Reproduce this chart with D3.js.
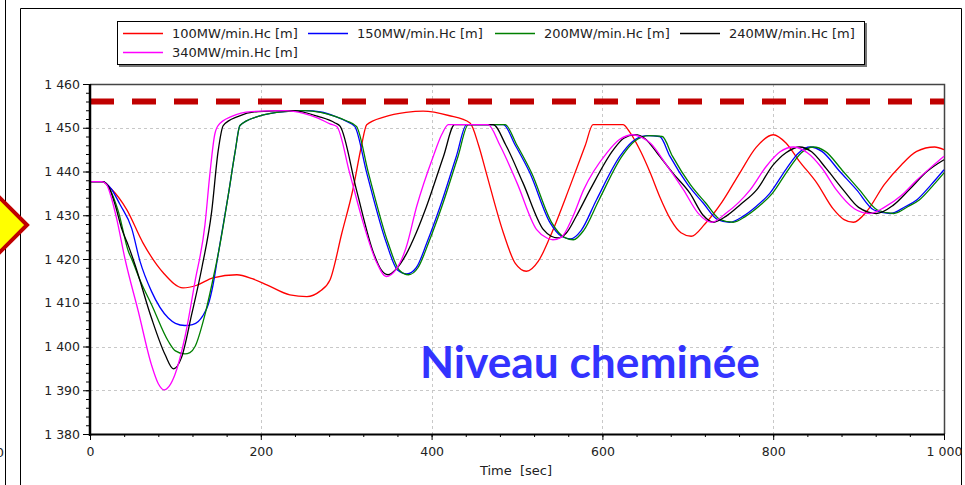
<!DOCTYPE html>
<html>
<head>
<meta charset="utf-8">
<script src="https://cdn.jsdelivr.net/npm/d3@7"></script>
<style>
  body { margin: 0; background: #fff; }
  svg { display: block; }
  text { font-family: "DejaVu Sans", sans-serif; fill: #222; }
</style>
</head>
<body>
<div id="container"></div>
<script>
let w = 965;
let h = 485;

// series : [time (s), level (m)]
let s100 = [[0,1437.7],[14,1437.7],[25,1436],[43,1431.3],[62,1423.7],[86,1416.8],[109,1413.4],[125,1414],[144,1415.7],[172,1416.4],[190,1415.5],[207,1414.1],[234,1411.8],[254,1411.4],[269,1412.6],[281,1415.2],[295,1426],[308,1436],[318,1446],[324,1450.7],[345,1452.5],[370,1453.5],[390,1453.8],[420,1452.8],[445,1451.1],[455,1446],[464,1439.7],[484,1426],[498,1419],[511,1417.2],[525,1419.5],[539,1425.2],[562,1436.6],[580,1446],[589,1450.7],[624,1450.7],[632,1449],[645,1444.5],[656,1439.7],[667,1434.3],[680,1429],[692,1426],[704,1425.2],[720,1428],[740,1433],[761,1439.7],[780,1445.5],[800,1448.4],[815,1446.5],[830,1442.5],[851,1437.4],[870,1431.5],[883,1429],[894,1428.4],[910,1431],[930,1437],[950,1441.5],[968,1444.6],[989,1445.6],[1000,1445]];
let s150 = [[0,1437.7],[15,1437.7],[25,1436],[35,1432.5],[48.8,1427],[58.5,1419.5],[72,1412.6],[91.7,1406.5],[100,1405.3],[111,1404.8],[120,1405],[126.8,1405.7],[132,1407],[138.5,1409.6],[144,1414],[150,1421],[162,1434.7],[170,1444.6],[175.6,1450.5],[197,1452.6],[228,1453.7],[252,1453.9],[270,1453.6],[287,1452.6],[300,1451.5],[310,1450.3],[324,1439.7],[347,1423.7],[360,1417.5],[371,1416.6],[382,1418],[395,1424],[410,1432],[429,1443.5],[441,1450.7],[484,1450.7],[498,1446],[515,1439.7],[539,1428.2],[552,1425.2],[563,1424.6],[575,1426.5],[593,1433.5],[620.6,1443.5],[635,1446.8],[652,1448.2],[667,1448],[679,1443.5],[700,1437],[718,1432.8],[735,1429],[749,1428.4],[765,1429.8],[780,1432],[796,1435],[815,1440.5],[830,1444.3],[843,1445.6],[857,1444.6],[878,1440],[897.7,1435.8],[918,1431.2],[937,1430.4],[955,1432],[968,1433.5],[985,1437],[1000,1440.4]];
let s200 = [[0,1437.7],[15,1437.7],[23,1436],[33,1431],[45,1421.7],[48.8,1420],[60,1414.5],[72,1409.6],[91.7,1401.2],[100,1399],[111,1398.3],[117,1398.6],[123,1400],[134.6,1407.3],[146,1417.2],[150,1421],[162,1434.7],[170,1444.6],[175.6,1450.5],[197,1452.6],[228,1453.7],[252,1453.9],[270,1453.5],[287,1452.6],[300,1451.6],[312,1450.3],[326,1439.7],[349,1423.7],[362,1417.5],[373,1416.4],[384,1418],[397,1424],[412,1432],[431,1443.5],[443,1450.7],[486,1450.7],[500,1446],[517,1439.7],[541,1428.2],[555,1425],[566,1424.4],[578,1426.5],[596,1433.5],[623,1443.5],[637,1446.8],[655,1448.2],[670,1448],[682,1443.5],[703,1437],[721,1432.8],[738,1429],[753,1428.4],[768,1429.8],[783,1432],[799,1435],[818,1440.5],[833,1444.3],[847,1445.6],[861,1444.6],[882,1440],[901,1435.8],[922,1431.2],[941,1430.4],[958,1432],[971,1433.5],[988,1437],[1000,1439.7]];
let s240 = [[0,1437.7],[15,1437.7],[22,1436.5],[30,1432],[37,1427],[45,1423],[52.7,1418.7],[72,1406.5],[88,1398.1],[97.6,1394.9],[107,1397.4],[119,1407.3],[131,1418],[142.5,1430.9],[150,1444.6],[156,1450.5],[173.7,1452.6],[197,1453.7],[237,1453.9],[267,1452.6],[287,1451.1],[293,1450.3],[312,1435.8],[332,1421.4],[341,1417.5],[349,1416.4],[358,1417.6],[370,1421],[382,1426],[394,1432],[414,1443.5],[427,1450.7],[472,1450.7],[487,1446],[507,1437.4],[531,1426.7],[540,1425.2],[548,1424.8],[558,1426],[570,1430],[585.5,1435.8],[613,1445],[625,1447.6],[638,1448.4],[650,1447.5],[665,1444],[683,1439.5],[702.6,1435],[718,1430],[730,1428.4],[745,1429.8],[762,1432.5],[780.6,1435.8],[800,1441.5],[815,1444.3],[831,1445.6],[845,1444.5],[862,1440.7],[882,1435.8],[900,1431.8],[921,1430.4],[940,1432.2],[960,1436],[980,1440],[1000,1442.7]];
let s340 = [[0,1437.7],[14,1437.7],[19.5,1437],[25,1434],[31,1429.4],[41,1420],[56.6,1408],[72,1395.8],[80,1391.5],[86.7,1390.1],[93,1391],[99.5,1393.6],[111,1402],[123,1414.9],[134.6,1427.8],[140.5,1439.7],[146,1448.4],[150,1450.5],[166,1452.6],[189,1453.7],[228,1453.9],[250,1453.3],[267,1452.2],[281,1450.9],[289,1450.3],[304,1439.7],[320,1428.2],[335,1419.5],[347,1416],[358,1417.5],[370,1422.5],[382.5,1432],[402,1443.5],[412,1448.5],[419.6,1450.7],[466,1450.7],[480,1446],[500,1437.4],[523,1426.7],[535,1424.8],[542,1424.4],[552,1425],[565,1429.5],[578,1435.8],[605,1444.2],[620,1447.3],[636,1448.4],[646,1447.8],[656,1446.5],[675,1441.5],[695,1435.8],[712,1430.5],[728,1428.4],[745,1430.5],[760,1433],[773,1435.8],[792,1441.2],[808,1444.5],[823.5,1445.6],[840,1444.3],[857,1440.8],[874,1435.8],[895,1431.5],[913,1430.4],[930,1431.8],[950,1434.5],[968,1438],[985,1441],[1000,1443.5]];

let seriesNames = ["100MW/min.Hc [m]","150MW/min.Hc [m]","200MW/min.Hc [m]","240MW/min.Hc [m]","340MW/min.Hc [m]"];
let seriesColors = ["#ff0000","#0000ff","#008000","#000000","#ff00ff"];
let allSeries = [s100, s150, s200, s240, s340];

let limit = 1456;
let xTicks = [0,200,400,600,800,1000];
let yTicks = [1380,1390,1400,1410,1420,1430,1440,1450,1460];
let fmt = v => d3.format(",")(v).replace(",", " ");

let viz = d3.select("#container").append("svg")
    .attr("width", w)
    .attr("height", h);

// panel frames
viz.append("line").attr("x1",5.5).attr("x2",5.5).attr("y1",0).attr("y2",h)
    .attr("stroke","#000");
viz.append("text").text("0").attr("x",4).attr("y",457)
    .attr("text-anchor","end").attr("font-size",12.5);
viz.append("path").attr("d","M20.5,490V8.5H961.5V490")
    .attr("fill","none").attr("stroke","#000");

// yellow arrow
viz.append("path").attr("d","M27,225L-8,190L-43,225L-8,260Z")
    .attr("fill","#ffff00").attr("stroke","#c00000").attr("stroke-width",4);

let x = d3.scaleLinear().domain([0,1000]).range([90,944]);
let y = d3.scaleLinear().domain([1380,1460]).range([434,84]);

// grid
let grid = viz.append("g");
grid.selectAll(".vg").data(xTicks.slice(1,-1)).enter().append("line")
    .attr("x1", d => Math.round(x(d))+0.5).attr("x2", d => Math.round(x(d))+0.5)
    .attr("y1", 84).attr("y2", 434)
    .attr("stroke","#c8c8c8").attr("stroke-dasharray","3,3");
grid.selectAll(".hg").data(yTicks.slice(1,-1)).enter().append("line")
    .attr("y1", d => Math.round(y(d))+0.5).attr("y2", d => Math.round(y(d))+0.5)
    .attr("x1", 90).attr("x2", 944)
    .attr("stroke","#c8c8c8").attr("stroke-dasharray","3,3");

// frame top / right
viz.append("path").attr("d","M90,84.5H944.5V434")
    .attr("fill","none").attr("stroke","#444").attr("stroke-width",1.5);

// limit line
viz.append("line")
    .attr("x1", x(0)).attr("x2", x(1000))
    .attr("y1", y(limit)).attr("y2", y(limit))
    .attr("stroke","#c00000").attr("stroke-width",6)
    .attr("stroke-dasharray","24,18");

// curves
viz.append("clipPath").attr("id","clip").append("rect")
    .attr("x",90).attr("y",84).attr("width",855).attr("height",350);
let lineMaker = d3.line()
    .x(d => x(d[0]))
    .y(d => y(d[1]))
    .curve(d3.curveMonotoneX);
viz.append("g").attr("clip-path","url(#clip)")
    .selectAll(".curve").data(allSeries).enter().append("path")
    .attr("class","curve")
    .attr("d", lineMaker)
    .attr("fill","none")
    .attr("stroke", (d,i) => seriesColors[i])
    .attr("stroke-width",1.3);

// axes
let xAxis = viz.append("g").attr("transform","translate(0,434)");
xAxis.call(d3.axisBottom(x).tickValues(d3.range(0,1001,40)).tickSize(3).tickFormat(""));
xAxis.call(g => g.select(".domain").remove());
let xMajor = viz.append("g").attr("transform","translate(0,434)")
    .call(d3.axisBottom(x).tickValues(xTicks).tickSize(6).tickPadding(7).tickFormat(fmt));
xMajor.select(".domain").remove();
xMajor.selectAll("text").attr("font-size",12.5).attr("fill","#222");

let yAxis = viz.append("g").attr("transform","translate(90,0)");
yAxis.call(d3.axisLeft(y).tickValues(d3.range(1380,1461,2)).tickSize(4).tickFormat(""));
yAxis.call(g => g.select(".domain").remove());
let yMajor = viz.append("g").attr("transform","translate(90,0)")
    .call(d3.axisLeft(y).tickValues(yTicks).tickSize(7).tickPadding(3).tickFormat(fmt));
yMajor.select(".domain").remove();
yMajor.selectAll("text").attr("font-size",12.5).attr("fill","#222");

viz.append("line").attr("x1",90).attr("x2",90).attr("y1",84).attr("y2",436)
    .attr("stroke","#000").attr("stroke-width",2.5);
viz.append("line").attr("x1",89).attr("x2",945).attr("y1",434.5).attr("y2",434.5)
    .attr("stroke","#000").attr("stroke-width",2);

viz.append("text").text("Time  [sec]")
    .attr("x", 516).attr("y", 475)
    .attr("text-anchor","middle")
    .attr("font-size",13)
    .style("white-space","pre");

// big label, sized to span the same width as the original
let big = viz.append("text").text("Niveau cheminée")
    .attr("x", 420).attr("y", 378)
    .style("font-family","Lato, 'Open Sans', sans-serif")
    .style("font-weight","bold")
    .attr("font-size",44)
    .style("fill","#3333ff");
let bigLen = big.node().getComputedTextLength();
big.attr("font-size", 44 * 340 / bigLen);

// legend
let legend = viz.append("g");
legend.append("rect").attr("x",119).attr("y",23).attr("width",748).attr("height",44)
    .attr("fill","#777");
legend.append("rect").attr("x",117.5).attr("y",21.5).attr("width",747).attr("height",43)
    .attr("fill","#fff").attr("stroke","#000");
let legPos = [[123,33],[308,33],[495,33],[680,33],[123,52]];
seriesNames.forEach(function(name, i){
  let item = legend.append("g")
      .attr("transform","translate(" + legPos[i][0] + "," + legPos[i][1] + ")");
  item.append("line").attr("x1",0).attr("x2",40).attr("y1",0.5).attr("y2",0.5)
      .attr("stroke", seriesColors[i]).attr("stroke-width",1.5);
  item.append("text").text(name).attr("x",49).attr("y",5)
      .attr("font-size",13);
});
</script>
</body>
</html>
